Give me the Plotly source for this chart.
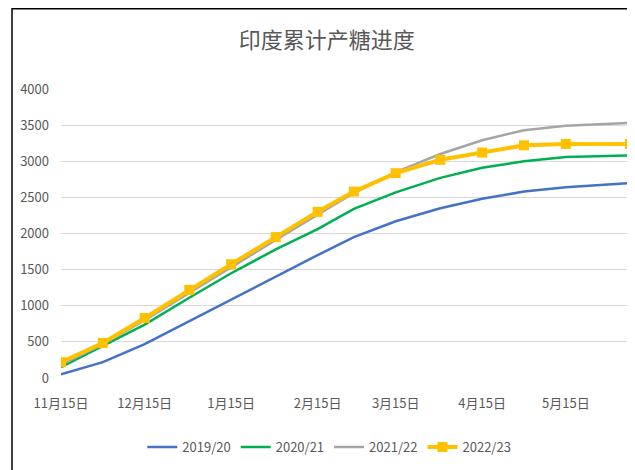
import plotly.graph_objects as go

# half-month reporting dates (season year set to 2022/23 for the date axis)
dates = ["2022-11-15", "2022-11-30", "2022-12-15", "2022-12-31", "2023-01-15",
         "2023-01-31", "2023-02-15", "2023-02-28", "2023-03-15", "2023-03-31",
         "2023-04-15", "2023-04-30", "2023-05-15", "2023-06-07"]

s2019 = [50, 220, 470, 790, 1080, 1400, 1700, 1950, 2170, 2350, 2480, 2580, 2640, 2700]
s2020 = [150, 440, 740, 1110, 1450, 1780, 2060, 2340, 2570, 2770, 2910, 3000, 3060, 3080]
s2021 = [180, 470, 800, 1180, 1540, 1910, 2260, 2560, 2850, 3100, 3290, 3430, 3490, 3530]
s2022 = [220, 485, 830, 1220, 1575, 1950, 2300, 2580, 2835, 3020, 3120, 3220, 3240, 3240]

tick_dates = ["2022-11-15", "2022-12-15", "2023-01-15", "2023-02-15",
              "2023-03-15", "2023-04-15", "2023-05-15"]
tick_text = ["11月15日", "12月15日", "1月15日", "2月15日", "3月15日", "4月15日", "5月15日"]

font = "Noto Sans CJK SC"
grey_txt = "#595959"

# plot area in figure pixels
L, T, W, H = 50, 81, 572, 289

fig = go.Figure()
fig.add_trace(go.Scatter(x=dates, y=s2019, name="2019/20", mode="lines",
                         line=dict(color="#4472C4", width=2.5)))
fig.add_trace(go.Scatter(x=dates, y=s2020, name="2020/21", mode="lines",
                         line=dict(color="#00B050", width=2.5)))
fig.add_trace(go.Scatter(x=dates, y=s2021, name="2021/22", mode="lines",
                         line=dict(color="#A5A5A5", width=2.5)))
fig.add_trace(go.Scatter(x=dates, y=s2022, name="2022/23", mode="lines+markers",
                         line=dict(color="#FFC000", width=4),
                         marker=dict(symbol="square", size=10, color="#FFC000")))

fig.update_layout(
    width=635, height=470,
    margin=dict(l=L, r=635 - L - W, t=T, b=470 - T - H),
    paper_bgcolor="white", plot_bgcolor="white",
    font=dict(family=font, size=13, color=grey_txt),
    title=dict(text="印度累计产糖进度", x=0.502, xanchor="center", y=1 - 32 / 470, yanchor="middle",
               font=dict(family=font, size=22, color=grey_txt)),
    legend=dict(orientation="h", xref="container", x=0.506, xanchor="center",
                yref="container", y=1 - 439 / 470, yanchor="middle",
                font=dict(family=font, size=13, color=grey_txt),
                itemwidth=30, tracegroupgap=0),
    shapes=[dict(type="rect", xref="paper", yref="paper",
                 x0=(0.75 - L) / W, x1=(625 - L) / W,
                 y0=1 + (T - 475) / H, y1=1 + (T - 0.75) / H,
                 line=dict(color="black", width=1.5))],
)
fig.update_xaxes(type="date", range=[dates[0], dates[-1]],
                 tickvals=tick_dates, ticktext=tick_text,
                 showgrid=False, showline=False, ticks="", tickangle=0,
                 ticklabelstandoff=16)
fig.update_yaxes(range=[0, 4000], dtick=500, showgrid=True, gridcolor="#D9D9D9",
                 gridwidth=1, zeroline=False, showline=False, ticks="",
                 ticklabelstandoff=11)

fig.write_html("out.html")
